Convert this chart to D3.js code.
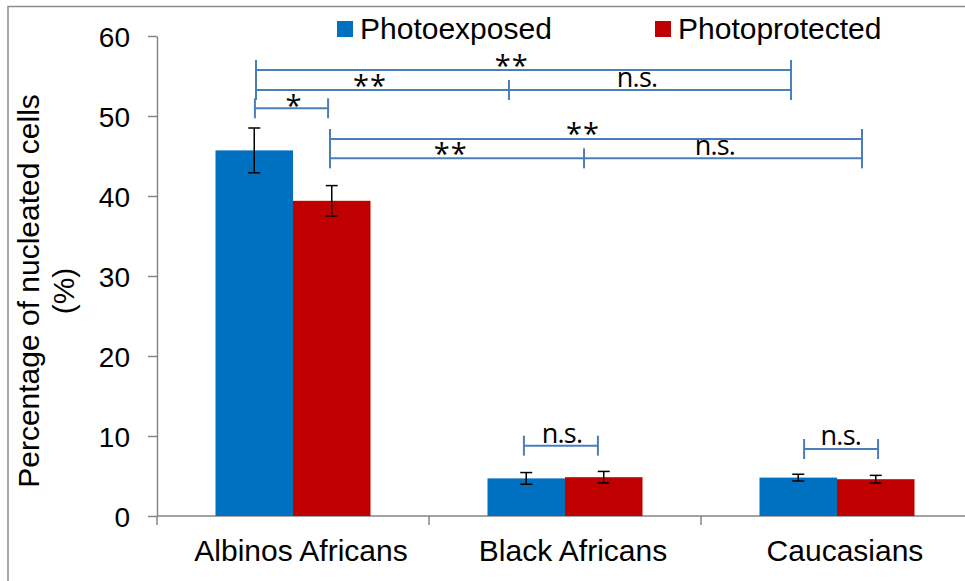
<!DOCTYPE html>
<html>
<head>
<meta charset="utf-8">
<script src="https://cdn.jsdelivr.net/npm/d3@7"></script>
<style>
  html, body { margin: 0; padding: 0; background: #fff; }
  svg { display: block; }
</style>
</head>
<body>
<script>
// Categories and series
const categories = ["Albinos Africans", "Black Africans", "Caucasians"];
const seriesNames = ["Photoexposed", "Photoprotected"];
const photoexposed = [45.7, 4.7, 4.8];
const photoprotected = [39.4, 4.85, 4.6];
const errExposed = [2.8, 0.73, 0.42];
const errProtected = [1.9, 0.72, 0.48];
const yTicks = [0, 10, 20, 30, 40, 50, 60];

// Significance brackets: x in category units (0..3), y in data units
const brackets = [
  { x1: 0.364, x2: 2.331, y: 55.75, mid: null },
  { x1: 0.364, x2: 2.331, y: 53.25, mid: 1.294 },
  { x1: 0.360, x2: 0.629, y: 50.96, mid: null },
  { x1: 0.636, x2: 2.592, y: 47.125, mid: null },
  { x1: 0.636, x2: 2.592, y: 44.71, mid: 1.570 },
  { x1: 1.349, x2: 1.621, y: 8.79, mid: null },
  { x1: 2.379, x2: 2.651, y: 8.375, mid: null }
];
const starLabels = [
  { x: 1.304, y: 56.9, text: "**" },
  { x: 0.783, y: 54.4, text: "**" },
  { x: 0.504, y: 51.9, text: "*" },
  { x: 1.566, y: 48.4, text: "**" },
  { x: 1.080, y: 45.9, text: "**" }
];
const nsLabels = [
  { x: 1.765, y: 53.625, text: "n.s." },
  { x: 2.051, y: 45.125, text: "n.s." },
  { x: 1.489, y: 9.125, text: "n.s." },
  { x: 2.514, y: 8.875, text: "n.s." }
];

const W = 965, H = 581;
const colors = ["#0070C0", "#C00000"];
const axisColor = "#868686";
const bracketColor = "#4A7EBB";
const plot = { left: 157, right: 973, top: 36, bottom: 516 };
const sans = "Liberation Sans, Arial, sans-serif";

const svg = d3.select("body").append("svg").attr("width", W).attr("height", H);

// outer frame
svg.append("rect")
  .attr("x", 8).attr("y", 6.5).attr("width", W + 20).attr("height", H + 20)
  .attr("fill", "none").attr("stroke", "#8c8c8c").attr("stroke-width", 1.5);

const y = d3.scaleLinear().domain([0, 60]).range([plot.bottom, plot.top]);
const x0 = d3.scaleBand().domain(categories).range([plot.left, plot.right]).paddingInner(0).paddingOuter(0);
const barW = 77.5;
const x1 = d3.scaleBand().domain(seriesNames).range([x0.bandwidth() / 2 - barW, x0.bandwidth() / 2 + barW]);
const pos = d3.scaleLinear().domain([0, 3]).range([plot.left, plot.right]);

// y axis
const yAxis = svg.append("g").attr("transform", `translate(${plot.left},0)`)
  .call(d3.axisLeft(y).tickValues(yTicks).tickSize(9).tickPadding(18).tickSizeOuter(0));
yAxis.select(".domain").attr("stroke", axisColor).attr("stroke-width", 1.5);
yAxis.selectAll(".tick line").attr("stroke", axisColor).attr("stroke-width", 1.5);
yAxis.selectAll(".tick text")
  .attr("font-family", sans)
  .attr("font-size", 28).attr("fill", "#000").attr("dy", "0.36em");

// x axis
const xAxisG = svg.append("g").attr("transform", `translate(0,${plot.bottom})`);
xAxisG.append("line").attr("x1", plot.left).attr("x2", W + 5).attr("y1", 0).attr("y2", 0)
  .attr("stroke", axisColor).attr("stroke-width", 1.5);
const boundaries = d3.range(categories.length + 1).map(i => pos(i));
xAxisG.selectAll("line.tk").data(boundaries).join("line").attr("class", "tk")
  .attr("x1", d => d).attr("x2", d => d).attr("y1", 0).attr("y2", 9)
  .attr("stroke", axisColor).attr("stroke-width", 1.5);
xAxisG.selectAll("text.cat").data(categories).join("text").attr("class", "cat")
  .attr("x", d => x0(d) + x0.bandwidth() / 2 + 8)
  .attr("y", 45)
  .attr("text-anchor", "middle")
  .attr("font-family", sans)
  .attr("font-size", 30).attr("fill", "#000")
  .text(d => d);

// y axis title
const yTitle = svg.append("text")
  .attr("transform", `translate(39,291) rotate(-90)`)
  .attr("text-anchor", "middle")
  .attr("font-family", sans)
  .attr("font-size", 30).attr("fill", "#000");
yTitle.append("tspan").attr("x", 0).attr("y", 0).text("Percentage of nucleated cells");
yTitle.append("tspan").attr("x", 0).attr("y", 35).text("(%)");

// bars
const rows = categories.map((c, i) => ({
  cat: c,
  vals: [
    { s: seriesNames[0], v: photoexposed[i], e: errExposed[i], k: 0 },
    { s: seriesNames[1], v: photoprotected[i], e: errProtected[i], k: 1 }
  ]
}));
const groups = svg.append("g").selectAll("g").data(rows).join("g")
  .attr("transform", d => `translate(${x0(d.cat)},0)`);
groups.selectAll("rect").data(d => d.vals).join("rect")
  .attr("x", d => x1(d.s)).attr("width", x1.bandwidth())
  .attr("y", d => y(d.v)).attr("height", d => y(0) - y(d.v))
  .attr("fill", d => colors[d.k]);

// error bars
const eb = groups.selectAll("g.err").data(d => d.vals).join("g").attr("class", "err")
  .attr("transform", d => `translate(${x1(d.s) + x1.bandwidth() / 2},0)`);
eb.append("line").attr("y1", d => y(d.v + d.e)).attr("y2", d => y(d.v - d.e));
eb.append("line").attr("x1", -6).attr("x2", 6).attr("y1", d => y(d.v + d.e)).attr("y2", d => y(d.v + d.e));
eb.append("line").attr("x1", -6).attr("x2", 6).attr("y1", d => y(d.v - d.e)).attr("y2", d => y(d.v - d.e));
eb.selectAll("line").attr("stroke", "#000").attr("stroke-width", 1.5);

// significance brackets
const bg = svg.append("g").attr("stroke", bracketColor).attr("stroke-width", 2).attr("fill", "none");
const tickH = 10;
brackets.forEach(b => {
  const yy = y(b.y);
  bg.append("line").attr("x1", pos(b.x1)).attr("x2", pos(b.x2)).attr("y1", yy).attr("y2", yy);
  [b.x1, b.x2].concat(b.mid != null ? [b.mid] : []).forEach(xv => {
    bg.append("line").attr("x1", pos(xv)).attr("x2", pos(xv)).attr("y1", yy - tickH).attr("y2", yy + tickH);
  });
});

// star labels (y is glyph centre)
svg.append("g").selectAll("text").data(starLabels).join("text")
  .attr("x", d => pos(d.x)).attr("y", d => y(d.y) + 15)
  .attr("text-anchor", "middle")
  .attr("font-family", "Open Sans, sans-serif")
  .attr("font-size", 29).attr("letter-spacing", 1).attr("fill", "#000")
  .text(d => d.text);

// n.s. labels (y is baseline)
svg.append("g").selectAll("text").data(nsLabels).join("text")
  .attr("x", d => pos(d.x)).attr("y", d => y(d.y))
  .attr("text-anchor", "middle")
  .attr("font-family", "Open Sans, sans-serif")
  .attr("font-size", 27).attr("letter-spacing", -0.8).attr("fill", "#000")
  .text(d => d.text);

// legend
const legendX = [337, 655];
const lg = svg.append("g").selectAll("g").data(seriesNames).join("g")
  .attr("transform", (d, i) => `translate(${legendX[i]},0)`);
lg.append("rect").attr("x", 0).attr("y", 21).attr("width", 16).attr("height", 16)
  .attr("fill", (d, i) => colors[i]);
lg.append("text").attr("x", 23).attr("y", 39)
  .attr("font-family", sans)
  .attr("font-size", 30).attr("fill", "#000")
  .text(d => d);
</script>
</body>
</html>
